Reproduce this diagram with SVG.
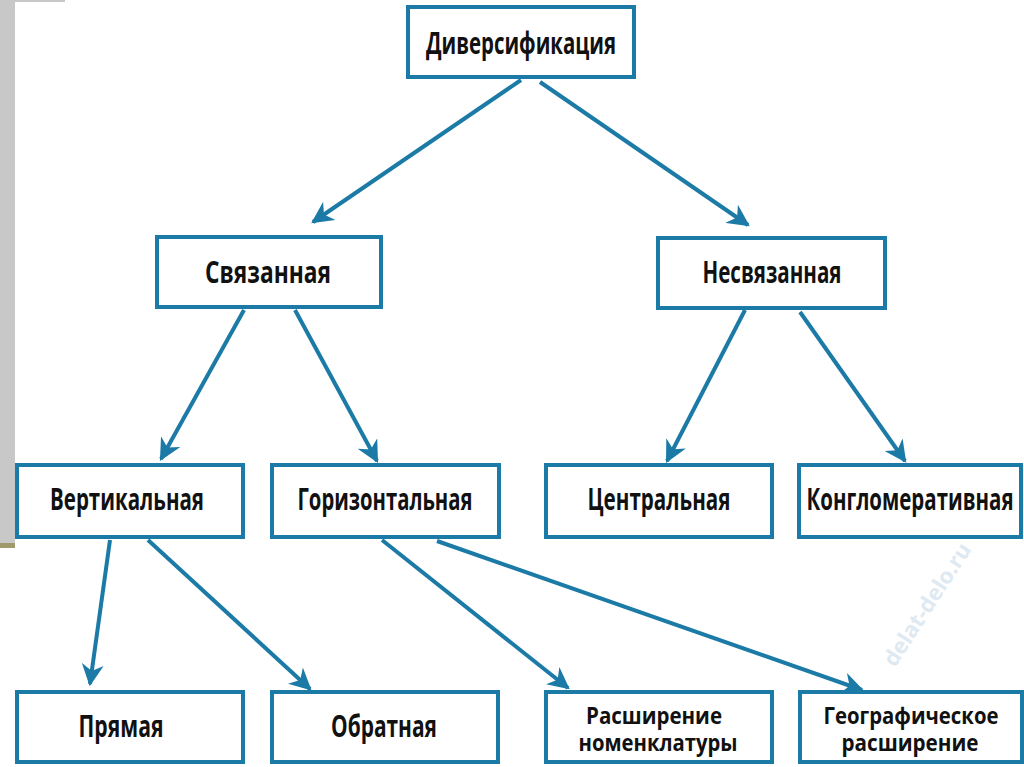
<svg xmlns="http://www.w3.org/2000/svg" width="1024" height="767" viewBox="0 0 1024 767">
<style>
.box{fill:#fff;stroke:#1b7aa6;stroke-width:4}
.t{font-family:"Open Sans","Noto Sans","DejaVu Sans",sans-serif;font-weight:bold;font-size:30px;fill:#111;text-anchor:middle}
.t2{font-family:"Open Sans","Noto Sans","DejaVu Sans",sans-serif;font-weight:bold;font-size:24px;fill:#111;text-anchor:middle}
.c{stroke:#1b7aa6;stroke-width:4;fill:none;marker-end:url(#ah)}
.wm{font-family:"Open Sans","DejaVu Sans",sans-serif;font-weight:bold;font-size:22px;fill:#d6e4ee;opacity:0.8}
</style>
<defs>
<marker id="ah" viewBox="0 0 10 10" refX="9" refY="5" markerWidth="5.5" markerHeight="5.5" orient="auto" markerUnits="strokeWidth">
<path d="M0,0 L10,5 L0,10 L3,5 Z" fill="#1b7aa6"/>
</marker>
</defs>
<rect width="1024" height="767" fill="#fff"/>
<rect x="0" y="0" width="15" height="545" fill="#c8c8c8"/>
<rect x="15" y="0" width="50" height="2" fill="#c8c8c8"/>
<rect x="0" y="543" width="15" height="5" fill="#a09a6a"/>
<text class="wm" transform="translate(895,668) rotate(-57)">delat-delo.ru</text>
<g id="connectors">
<line class="c" x1="521" y1="80" x2="313" y2="222"/>
<line class="c" x1="540" y1="82" x2="748" y2="225"/>
<line class="c" x1="244" y1="310" x2="161" y2="459"/>
<line class="c" x1="295" y1="310" x2="377" y2="461"/>
<line class="c" x1="745" y1="310" x2="667" y2="461"/>
<line class="c" x1="800" y1="312" x2="905" y2="461"/>
<line class="c" x1="110" y1="540" x2="90" y2="684"/>
<line class="c" x1="148" y1="540" x2="310" y2="689"/>
<line class="c" x1="382" y1="540" x2="568" y2="688"/>
<line class="c" x1="437" y1="541" x2="862" y2="690"/>
</g>
<g id="n1"><rect class="box" x="408" y="7" width="226" height="70"/><text class="t" x="521" y="54" textLength="190" lengthAdjust="spacingAndGlyphs">Диверсификация</text></g>
<g id="n2"><rect class="box" x="157" y="237" width="224" height="70"/><text class="t" x="268" y="283" textLength="126" lengthAdjust="spacingAndGlyphs">Связанная</text></g>
<g id="n3"><rect class="box" x="658" y="238" width="227" height="70"/><text class="t" x="772" y="283" textLength="139" lengthAdjust="spacingAndGlyphs">Несвязанная</text></g>
<g id="n4"><rect class="box" x="17" y="465" width="226" height="72"/><text class="t" x="127" y="510" textLength="154" lengthAdjust="spacingAndGlyphs">Вертикальная</text></g>
<g id="n5"><rect class="box" x="272" y="465" width="227" height="72"/><text class="t" x="385" y="510" textLength="175" lengthAdjust="spacingAndGlyphs">Горизонтальная</text></g>
<g id="n6"><rect class="box" x="546" y="465" width="226" height="72"/><text class="t" x="659" y="510" textLength="143" lengthAdjust="spacingAndGlyphs">Центральная</text></g>
<g id="n7"><rect class="box" x="799" y="465" width="222" height="72"/><text class="t" x="910" y="510" textLength="207" lengthAdjust="spacingAndGlyphs">Конгломеративная</text></g>
<g id="n8"><rect class="box" x="17" y="692" width="226" height="70"/><text class="t" x="121" y="737" textLength="85" lengthAdjust="spacingAndGlyphs">Прямая</text></g>
<g id="n9"><rect class="box" x="272" y="692" width="226" height="70"/><text class="t" x="384" y="737" textLength="106" lengthAdjust="spacingAndGlyphs">Обратная</text></g>
<g id="n10"><rect class="box" x="546" y="692" width="226" height="70"/><text class="t2" x="654" y="724" textLength="136" lengthAdjust="spacingAndGlyphs">Расширение</text><text class="t2" x="658" y="751" textLength="159" lengthAdjust="spacingAndGlyphs">номенклатуры</text></g>
<g id="n11"><rect class="box" x="800" y="692" width="222" height="70"/><text class="t2" x="911" y="724" textLength="175" lengthAdjust="spacingAndGlyphs">Географическое</text><text class="t2" x="910" y="751" textLength="137" lengthAdjust="spacingAndGlyphs">расширение</text></g>
</svg>
